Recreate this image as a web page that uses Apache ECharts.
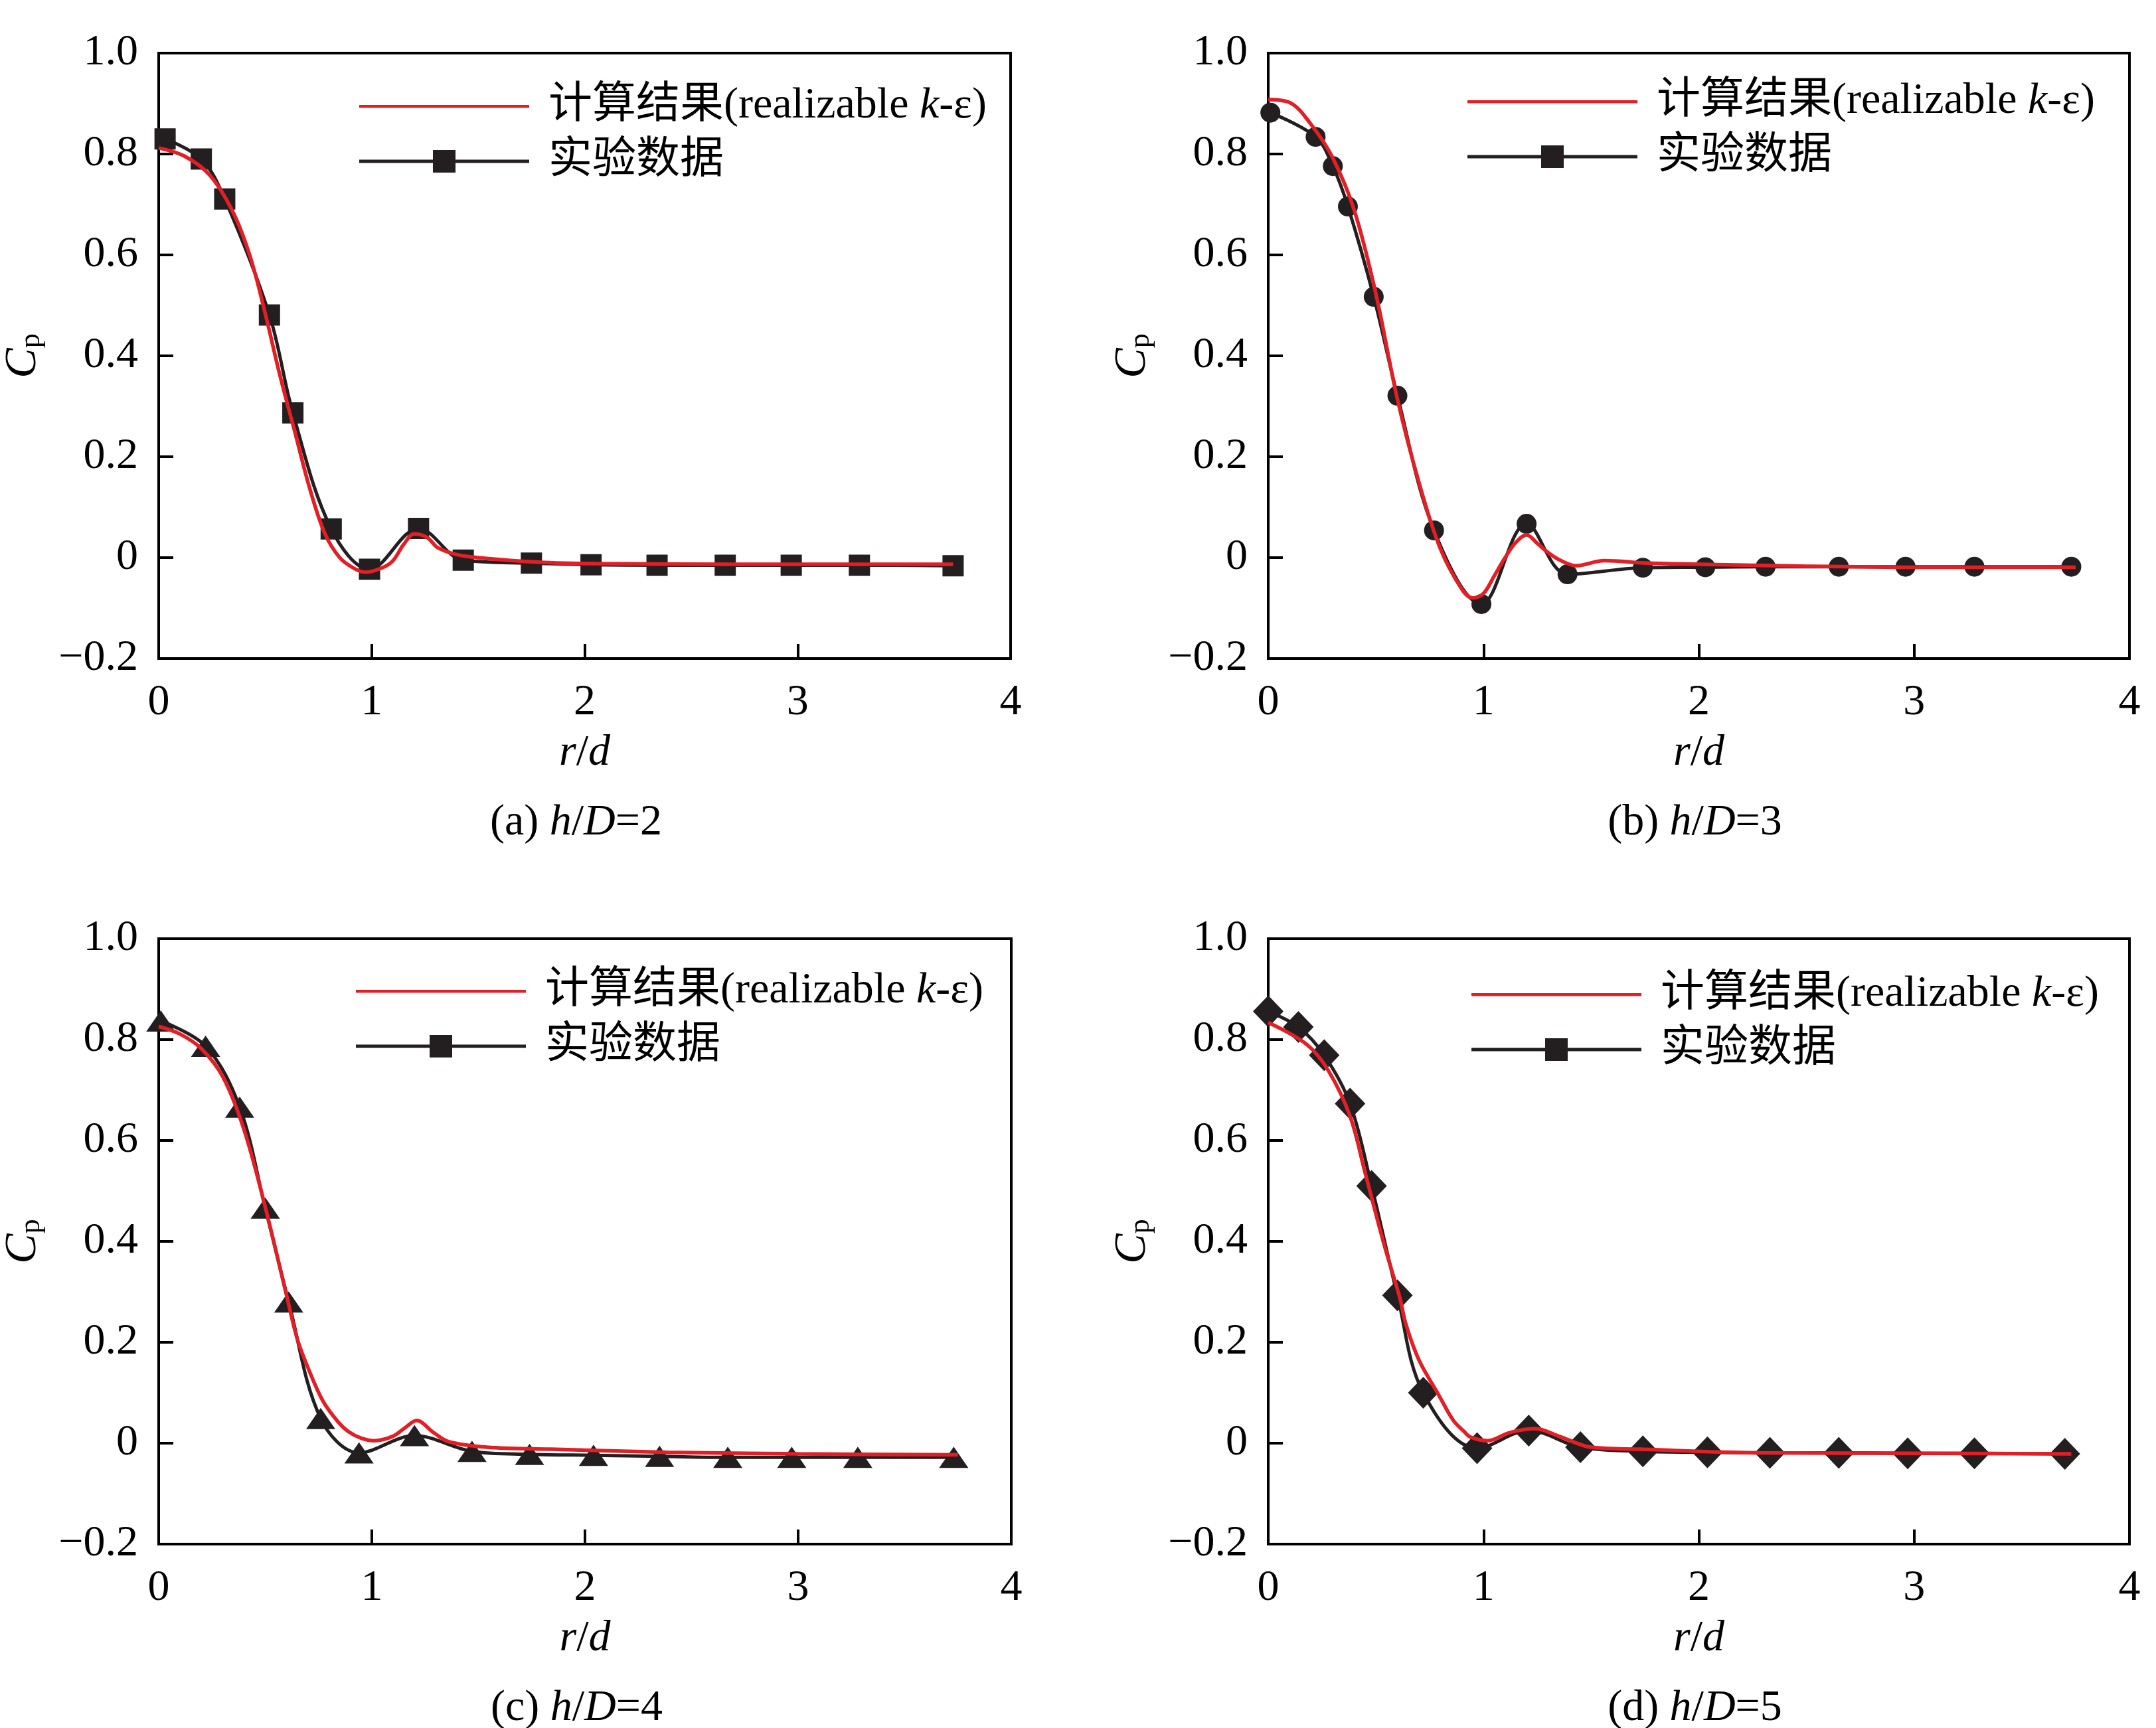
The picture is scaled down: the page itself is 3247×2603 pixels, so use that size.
<!DOCTYPE html>
<html>
<head>
<meta charset="utf-8">
<script src="https://cdn.jsdelivr.net/npm/echarts@6/dist/echarts.min.js"></script>
<style>
html, body { margin: 0; padding: 0; background: #fff; }
#chart { width: 3247px; height: 2603px; }
</style>
</head>
<body>
<div id="chart"></div>
<script>
// values: r/d on x, Cp on y

// (a) h/D=2
var expX_a = [0.03, 0.20, 0.31, 0.52, 0.63, 0.81, 0.99, 1.22, 1.43, 1.75, 2.03, 2.34, 2.66, 2.97, 3.29, 3.73];
var expY_a = [0.830, 0.790, 0.711, 0.481, 0.287, 0.057, -0.023, 0.058, -0.005, -0.011, -0.014, -0.015, -0.015, -0.015, -0.015, -0.016];
var cfdX_a = [0, 0.12, 0.24, 0.35, 0.43, 0.50, 0.57, 0.64, 0.71, 0.78, 0.85, 0.92, 0.97, 1.05, 1.10, 1.15, 1.20, 1.26, 1.31, 1.40, 1.50, 1.78, 2.05, 2.70, 3.20, 3.73];
var cfdY_a = [0.812, 0.796, 0.758, 0.684, 0.596, 0.484, 0.360, 0.248, 0.136, 0.048, 0.000, -0.022, -0.029, -0.020, -0.006, 0.026, 0.047, 0.040, 0.020, 0.006, 0.000, -0.009, -0.012, -0.013, -0.013, -0.013];

// (b) h/D=3
var expX_b = [0.01, 0.22, 0.30, 0.37, 0.49, 0.60, 0.77, 0.99, 1.20, 1.39, 1.74, 2.03, 2.31, 2.65, 2.96, 3.28, 3.73];
var expY_b = [0.882, 0.834, 0.776, 0.696, 0.517, 0.321, 0.054, -0.092, 0.067, -0.033, -0.020, -0.019, -0.018, -0.018, -0.018, -0.018, -0.018];
var cfdX_b = [0, 0.10, 0.20, 0.30, 0.40, 0.50, 0.60, 0.70, 0.80, 0.90, 0.95, 1.00, 1.05, 1.10, 1.15, 1.20, 1.25, 1.30, 1.36, 1.43, 1.56, 1.76, 2.00, 2.50, 3.00, 3.75];
var cfdY_b = [0.908, 0.902, 0.858, 0.792, 0.688, 0.523, 0.314, 0.149, 0.017, -0.063, -0.080, -0.071, -0.036, 0.000, 0.030, 0.045, 0.028, 0.010, -0.006, -0.016, -0.006, -0.011, -0.013, -0.017, -0.019, -0.019];

// (c) h/D=4
var expX_c = [0.01, 0.22, 0.38, 0.50, 0.61, 0.76, 0.94, 1.20, 1.47, 1.74, 2.04, 2.35, 2.67, 2.97, 3.28, 3.73];
var expY_c = [0.837, 0.787, 0.666, 0.466, 0.280, 0.049, -0.019, 0.015, -0.016, -0.022, -0.024, -0.026, -0.028, -0.028, -0.028, -0.028];
var cfdX_c = [0, 0.10, 0.20, 0.30, 0.40, 0.50, 0.60, 0.65, 0.70, 0.77, 0.84, 0.89, 0.95, 1.01, 1.10, 1.16, 1.21, 1.29, 1.36, 1.54, 1.84, 2.39, 3.00, 3.75];
var cfdY_c = [0.826, 0.811, 0.782, 0.727, 0.622, 0.468, 0.293, 0.207, 0.150, 0.084, 0.043, 0.023, 0.010, 0.005, 0.014, 0.032, 0.045, 0.021, 0.003, -0.008, -0.012, -0.018, -0.021, -0.023];

// (d) h/D=5
var expX_d = [0.00, 0.14, 0.26, 0.38, 0.48, 0.60, 0.72, 0.97, 1.21, 1.45, 1.74, 2.04, 2.33, 2.65, 2.97, 3.28, 3.70];
var expY_d = [0.856, 0.825, 0.769, 0.673, 0.510, 0.293, 0.100, -0.010, 0.025, -0.008, -0.016, -0.018, -0.019, -0.019, -0.020, -0.020, -0.021];
var cfdX_d = [0, 0.18, 0.28, 0.38, 0.45, 0.54, 0.61, 0.64, 0.70, 0.79, 0.86, 0.91, 0.94, 1.02, 1.12, 1.24, 1.35, 1.50, 1.73, 2.29, 3.00, 3.73];
var cfdY_d = [0.834, 0.790, 0.738, 0.648, 0.536, 0.391, 0.290, 0.235, 0.165, 0.097, 0.045, 0.023, 0.012, 0.005, 0.021, 0.029, 0.014, -0.008, -0.012, -0.019, -0.020, -0.021];

var captions = ['(a) {i|h}/{i|D}=2', '(b) {i|h}/{i|D}=3', '(c) {i|h}/{i|D}=4', '(d) {i|h}/{i|D}=5'];
var CFD_NAME = '计算结果(realizable k-ε)';
var EXP_NAME = '实验数据';

var FONT = '"Liberation Serif", "Times New Roman", "Noto Sans CJK SC", serif';
var INK = '#231f20';
var RED = '#e31f26';
var FS = 66;

// legend icons, both 256x34 so they are not stretched
var RED_ICON = 'path://M0,0L1,0L0,0ZM256,34L255,34L256,34ZM0,15H256V19.5H0Z';
var EXP_ICON = 'path://M0,14.5H111V0H145V14.5H256V19.5H145V34H111V19.5H0Z';

function pairs(xs, ys) {
    return xs.map(function (x, i) { return [x, ys[i]]; });
}

var GW = 1297, GH = 912;
var panels = [
    { left: 225,  top: 80,   exp: pairs(expX_a, expY_a), cfd: pairs(cfdX_a, cfdY_a), sym: 'rect',     size: 32,       lg: [536, 122] },
    { left: 1910, top: 80,   exp: pairs(expX_b, expY_b), cfd: pairs(cfdX_b, cfdY_b), sym: 'circle',   size: 30,       lg: [2205, 115] },
    { left: 226,  top: 1414, exp: pairs(expX_c, expY_c), cfd: pairs(cfdX_c, cfdY_c), sym: 'triangle', size: [44, 32], lg: [531, 1455] },
    { left: 1910, top: 1414, exp: pairs(expX_d, expY_d), cfd: pairs(cfdX_d, cfdY_d), sym: 'diamond',  size: [46, 48], lg: [2211, 1460] }
];

var italic = { fontStyle: 'italic', fontFamily: FONT, color: '#000' };

var option = {
    animation: false,
    backgroundColor: '#fff',
    title: panels.map(function (p, i) {
        return {
            text: captions[i],
            left: p.left + GW / 2 - 6,
            top: p.top + 1127,
            textAlign: 'center',
            padding: 0,
            textStyle: {
                fontSize: FS, fontWeight: 'normal', fontFamily: FONT, color: '#000',
                rich: { i: Object.assign({ fontSize: FS }, italic) }
            }
        };
    }),
    legend: panels.map(function (p) {
        return {
            orient: 'vertical',
            left: p.lg[0],
            top: p.lg[1],
            itemWidth: 256,
            itemHeight: 34,
            itemGap: 17,
            selectedMode: false,
            itemStyle: { borderWidth: 0 },
            data: [{ name: CFD_NAME, icon: RED_ICON }, { name: EXP_NAME, icon: EXP_ICON }],
            formatter: function (name) {
                return name === CFD_NAME ? '计算结果(realizable {i|k}-ε)' : name;
            },
            textStyle: {
                fontSize: 66, fontFamily: FONT, color: '#000', padding: [0, 0, 0, 24],
                rich: { i: Object.assign({ fontSize: 66 }, italic) }
            }
        };
    }),
    grid: panels.map(function (p) {
        return { left: p.left, top: p.top, width: GW, height: GH, show: true, borderColor: '#000', borderWidth: 4 };
    }),
    xAxis: panels.map(function (p, i) {
        return {
            gridIndex: i, type: 'value', min: 0, max: 4, interval: 1,
            axisLine: { onZero: false, lineStyle: { color: '#000', width: 4 } },
            axisTick: { inside: true, length: 22, lineStyle: { color: '#000', width: 4 } },
            axisLabel: { margin: 34, fontSize: FS, fontFamily: FONT, color: '#000' },
            splitLine: { show: false },
            name: '{i|r}/{i|d}',
            nameLocation: 'middle',
            nameGap: 110,
            nameTextStyle: { fontSize: FS, fontFamily: FONT, color: '#000', rich: { i: Object.assign({ fontSize: FS }, italic) } }
        };
    }),
    yAxis: panels.map(function (p, i) {
        return {
            gridIndex: i, type: 'value', min: -0.2, max: 1.0, interval: 0.2,
            axisLine: { onZero: false, lineStyle: { color: '#000', width: 4 } },
            axisTick: { inside: true, length: 22, lineStyle: { color: '#000', width: 4 } },
            axisLabel: {
                margin: 31, fontSize: FS, fontFamily: FONT, color: '#000',
                formatter: function (v) {
                    if (Math.abs(v) < 1e-9) return '0';
                    return (v < 0 ? '\u2212' : '') + Math.abs(v).toFixed(1);
                }
            },
            splitLine: { show: false },
            name: '{c|C}{p|p}',
            nameLocation: 'middle',
            nameRotate: 90,
            nameGap: 170,
            nameTextStyle: {
                fontFamily: FONT, color: '#000',
                rich: {
                    c: Object.assign({ fontSize: 68 }, italic),
                    p: { fontSize: 44, fontFamily: FONT, color: '#000', verticalAlign: 'bottom' }
                }
            }
        };
    }),
    series: []
};

panels.forEach(function (p, i) {
    option.series.push({
        type: 'line', name: EXP_NAME, xAxisIndex: i, yAxisIndex: i,
        data: p.exp, smooth: 0.35,
        symbol: p.sym, symbolSize: p.size, showAllSymbol: true,
        lineStyle: { color: INK, width: 5 },
        itemStyle: { color: INK, borderWidth: 0 },
        z: 2
    });
    option.series.push({
        type: 'line', name: CFD_NAME, xAxisIndex: i, yAxisIndex: i,
        data: p.cfd, smooth: 0.35, symbol: 'none',
        lineStyle: { color: RED, width: 5.5 },
        itemStyle: { color: RED },
        z: 3
    });
});

var chart = echarts.init(document.getElementById('chart'));
chart.setOption(option);
</script>
</body>
</html>
